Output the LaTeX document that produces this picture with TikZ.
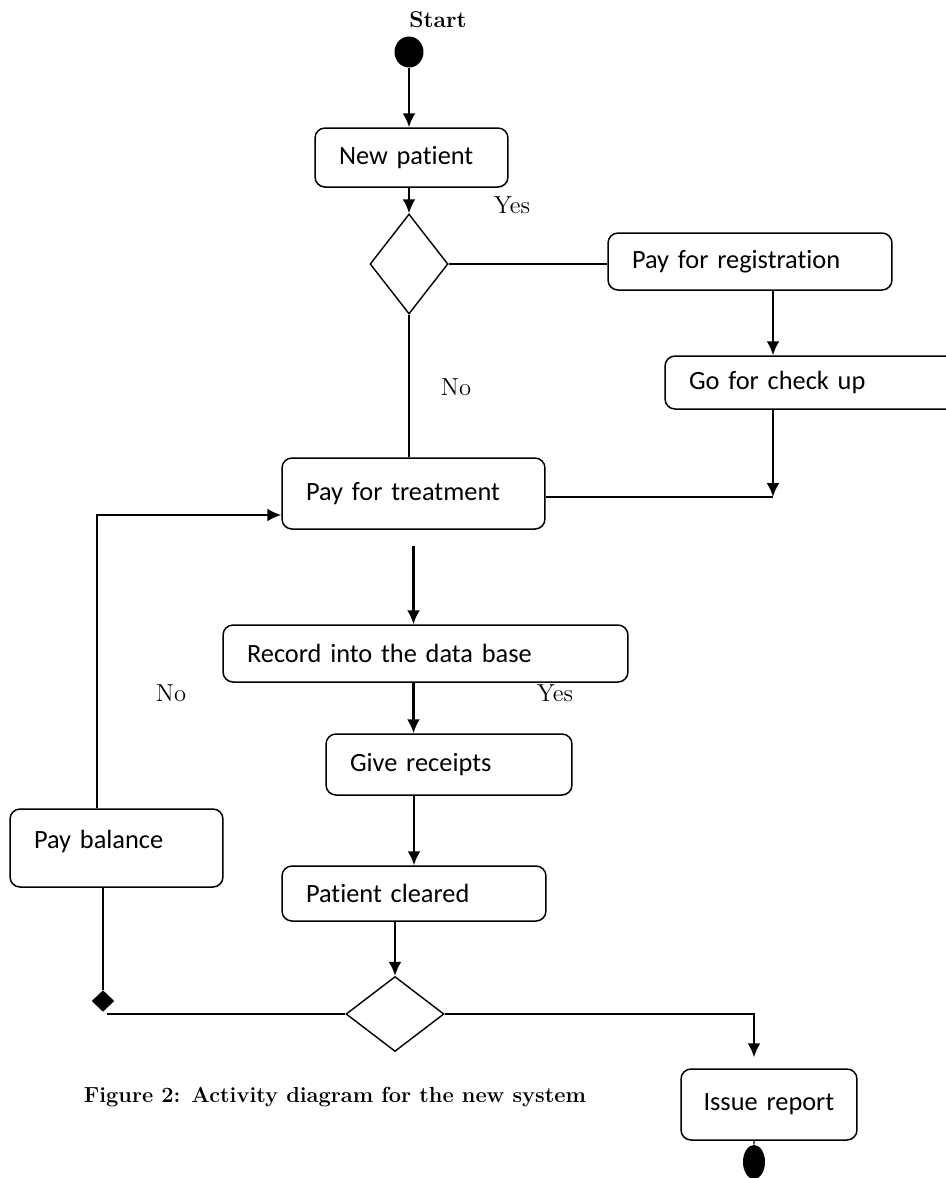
\documentclass[tikz,border=0pt]{standalone}
\usepackage{fontspec}
\newfontfamily\boxfont[Ligatures=NoCommon]{Carlito}
\usetikzlibrary{shapes.geometric, arrows.meta}

\begin{document}
\begin{tikzpicture}[x=0.02cm, y=-0.02cm, >={Latex[length=0.28cm, width=0.26cm]},
    act/.style={draw, rounded corners=0.2cm, line width=0.85pt, align=left,
        inner xsep=0.48cm, inner ysep=0pt, font={\boxfont\fontsize{15}{18}\selectfont}},
    decision/.style={draw, diamond, inner sep=0pt, line width=0.8pt},
    dot/.style={ellipse, fill=black, inner sep=0pt},
    lbl/.style={font=\fontsize{14}{16}\selectfont},
    flow/.style={->, line width=1.3pt},
    link/.style={line width=0.75pt}]
    \useasboundingbox (0,0) rectangle (946,1178);
    \clip (0,0) rectangle (946,1178);

    % Draw start and end
    \node[font=\bfseries\fontsize{13}{15}\selectfont] (starttxt) at (438,20) {Start};
    \node[dot, minimum width=0.58cm, minimum height=0.62cm] (start) at (409,52) {};
    \node[dot, minimum width=0.44cm, minimum height=0.68cm] (finish) at (754,1162) {};

    % Draw activities
    \node[act, text width=2.90cm, minimum height=1.18cm] (newp) at (411.5,157.5) {New patient};
    \node[act, text width=4.72cm, minimum height=1.14cm] (reg) at (750,261.5) {Pay for registration};
    \node[act, text width=5.84cm, minimum height=1.06cm] (check) at (835,382.5) {Go for check up};
    \node[act, text width=4.30cm, minimum height=1.42cm] (treat) at (413.5,493.5) {Pay for treatment};
    \node[act, text width=7.14cm, minimum height=1.14cm] (record) at (425.5,653.5) {Record into the data base};
    \node[act, text width=3.96cm, minimum height=1.22cm] (receipts) at (449,764.5) {Give receipts};
    \node[act, text width=4.32cm, minimum height=1.10cm] (cleared) at (414,893.5) {Patient cleared};
    \node[act, text width=3.30cm, minimum height=1.56cm, text depth=0.35cm] (balance) at (116.5,848) {Pay balance};
    \node[act, text width=2.62cm, inner xsep=0.45cm, minimum height=1.42cm] (report) at (769,1104.5) {Issue report};

    % Draw decisions
    \node[decision, minimum width=1.56cm, minimum height=2cm] (dec1) at (409,264) {};
    \node[decision, minimum width=1.96cm, minimum height=1.5cm] (dec2) at (395,1014) {};
    \node[decision, fill=black, minimum width=0.42cm, minimum height=0.4cm] (merge) at (103,1001) {};

    % Draw labels
    \node[lbl] (yes1) at (512,205) {Yes};
    \node[lbl] (no1) at (456,387) {No};
    \node[lbl] (no2) at (171,693) {No};
    \node[lbl] (yes2) at (555,693) {Yes};
    \node[font=\bfseries\fontsize{12.4}{14}\selectfont] (caption) at (335,1097) {Figure 2: Activity diagram for the new system};

    % Draw flows
    \draw[flow] (start) -- (start |- newp.north);
    \draw[flow] (dec1.north |- newp.south) -- (dec1.north);
    \draw[link] (dec1.east) -- (dec1.east -| reg.west);
    \draw[flow] ([xshift=0.46cm]reg.south) -- ([xshift=0.46cm]reg.south |- check.north);
    \coordinate (join) at (773,497);
    \draw[flow] (join |- check.south) -- (join);
    \draw[link] (treat.east |- join) -- (join);
    \draw[link] (dec1.south) -- (dec1.south |- treat.north);
    \draw[flow] ([yshift=-0.32cm]treat.south) -- (treat.south |- record.north);
    \draw[flow] (treat.south |- record.south) -- (treat.south |- receipts.north);
    \draw[flow] (cleared.north |- receipts.south) -- (cleared.north);
    \draw[flow] (dec2.north |- cleared.south) -- (dec2.north);
    \draw[link] (dec2.west) -- ([xshift=0.08cm]merge.south |- dec2.west);
    \draw[link] (merge.north |- balance.south) -- (merge.north);
    \coordinate (back) at (97,515);
    \draw[flow] (back |- balance.north) -- (back) -- (back -| treat.west);
    \draw[flow] (dec2.east) -| ([xshift=-0.3cm,yshift=0.22cm]report.north);
    \draw[link] ([xshift=-0.3cm]report.south) -- (finish);
\end{tikzpicture}
\end{document}
